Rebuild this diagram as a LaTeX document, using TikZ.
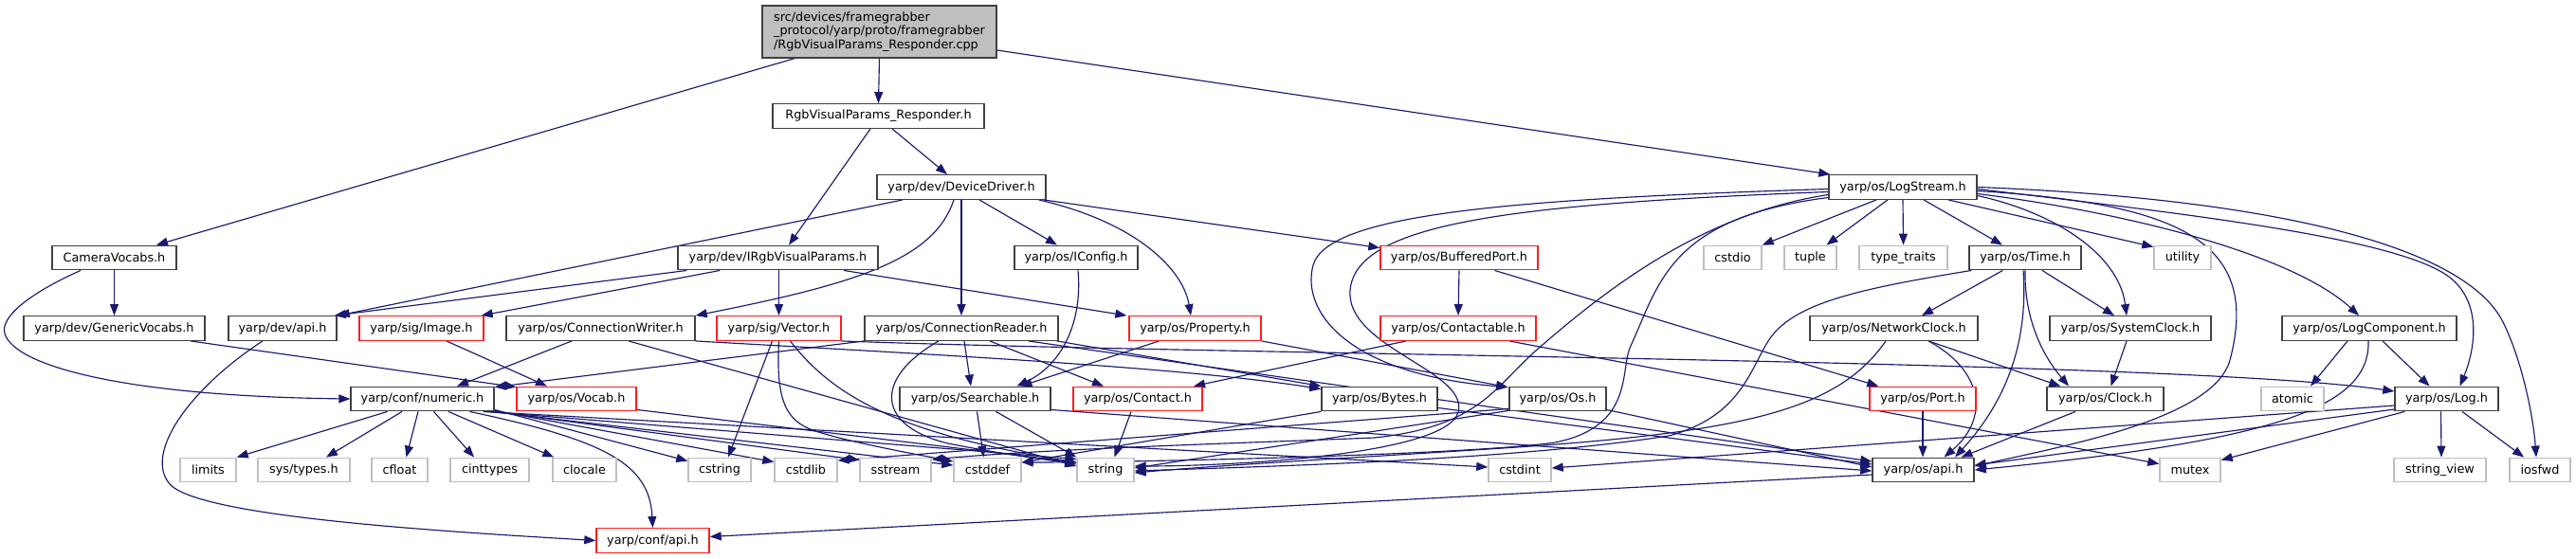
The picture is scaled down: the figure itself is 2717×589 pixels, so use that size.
\documentclass[tikz,border=0pt]{standalone}
\usepackage{fontspec}
\setmainfont{DejaVu Sans}
\usetikzlibrary{arrows.meta,calc}
\pgfdeclarelayer{background}
\pgfsetlayers{background,main}
\definecolor{doxedge}{RGB}{25,25,112}
\definecolor{doxborder}{RGB}{64,64,64}
\definecolor{doxred}{RGB}{255,30,30}
\definecolor{doxgray}{RGB}{191,191,191}
\definecolor{doxfill}{RGB}{191,191,191}
\tikzset{
  box/.style={draw=doxborder, line width=1.4pt, fill=white, inner sep=0pt,
    minimum height=25.5pt, font={\fontsize{12.8}{14.7}\selectfont}, text=black},
  nb/.style={box},
  rb/.style={box, draw=doxred},
  gb/.style={box, draw=doxgray},
  e/.style={draw=doxedge, line width=1.15pt, -{Triangle[length=12pt,width=9pt]}},
}
\begin{document}
\begin{tikzpicture}[x=1pt,y=-1pt]
\useasboundingbox (0,0) rectangle (2717,589);
% row 0
\node[nb, fill=doxfill, minimum width=247pt, minimum height=55pt, align=left] (top) at (927.5,33.5)
  {src/devices/framegrabber\\\_protocol/yarp/proto/framegrabber\\/RgbVisualParams\_Responder.cpp};
% row 1
\node[nb, minimum width=223pt] (resp) at (926.5,122.5) {RgbVisualParams\_Responder.h};
% row 2
\node[nb, minimum width=178pt] (devdrv) at (1014,197.5) {yarp/dev/DeviceDriver.h};
\node[nb, minimum width=156pt] (logstream) at (2007,197.5) {yarp/os/LogStream.h};
% row 3
\node[nb, minimum width=131pt] (camvoc) at (120.5,272) {CameraVocabs.h};
\node[nb, minimum width=211pt] (irgb) at (820.5,272) {yarp/dev/IRgbVisualParams.h};
\node[nb, minimum width=130pt] (iconfig) at (1135,272) {yarp/os/IConfig.h};
\node[rb, minimum width=166pt] (bufport) at (1539,272) {yarp/os/BufferedPort.h};
\node[gb, minimum width=61pt] (cstdio) at (1827.5,272) {cstdio};
\node[gb, minimum width=55pt] (tuple) at (1909.5,272) {tuple};
\node[gb, minimum width=93pt] (typetraits) at (2007.5,272) {type\_traits};
\node[nb, minimum width=118pt] (time) at (2136,272) {yarp/os/Time.h};
\node[gb, minimum width=60pt] (utility) at (2302,272) {utility};
% row 4
\node[nb, minimum width=191pt] (genvoc) at (120.5,346.5) {yarp/dev/GenericVocabs.h};
\node[nb, minimum width=114pt] (devapi) at (298,346.5) {yarp/dev/api.h};
\node[rb, minimum width=131pt] (image) at (444.5,346.5) {yarp/sig/Image.h};
\node[nb, minimum width=199pt] (connwriter) at (633.5,346.5) {yarp/os/ConnectionWriter.h};
\node[rb, minimum width=131pt] (vector) at (821.5,346.5) {yarp/sig/Vector.h};
\node[nb, minimum width=204pt] (connreader) at (1014,346.5) {yarp/os/ConnectionReader.h};
\node[rb, minimum width=139pt] (property) at (1260.5,346.5) {yarp/os/Property.h};
\node[rb, minimum width=164pt] (contactable) at (1538,346.5) {yarp/os/Contactable.h};
\node[nb, minimum width=177pt] (netclock) at (1997.5,346.5) {yarp/os/NetworkClock.h};
\node[nb, minimum width=170pt] (sysclock) at (2247,346.5) {yarp/os/SystemClock.h};
\node[nb, minimum width=184pt] (logcomp) at (2499,346.5) {yarp/os/LogComponent.h};
% row 5
\node[nb, minimum width=151pt] (numeric) at (445.5,421) {yarp/conf/numeric.h};
\node[rb, minimum width=126pt] (vocab) at (608,421) {yarp/os/Vocab.h};
\node[nb, minimum width=159pt] (searchable) at (1028.5,421) {yarp/os/Searchable.h};
\node[rb, minimum width=136pt] (contact) at (1200,421) {yarp/os/Contact.h};
\node[nb, minimum width=122pt] (bytes) at (1455,421) {yarp/os/Bytes.h};
\node[nb, minimum width=102pt] (os) at (1643,421) {yarp/os/Os.h};
\node[rb, minimum width=112pt] (port) at (2028,421) {yarp/os/Port.h};
\node[nb, minimum width=123pt] (clock) at (2220.5,421) {yarp/os/Clock.h};
\node[gb, minimum width=66pt] (atomic) at (2418,421) {atomic};
\node[nb, minimum width=109pt] (log) at (2580.5,421) {yarp/os/Log.h};
% row 6
\node[gb, minimum width=59pt] (limits) at (219.5,496) {limits};
\node[gb, minimum width=97pt] (systypes) at (320.5,496) {sys/types.h};
\node[gb, minimum width=59pt] (cfloat) at (421.5,496) {cfloat};
\node[gb, minimum width=83pt] (cinttypes) at (516.5,496) {cinttypes};
\node[gb, minimum width=67pt] (clocale) at (616.5,496) {clocale};
\node[gb, minimum width=66pt] (cstring) at (759,496) {cstring};
\node[gb, minimum width=66pt] (cstdlib) at (850,496) {cstdlib};
\node[gb, minimum width=75pt] (sstream) at (944.5,496) {sstream};
\node[gb, minimum width=71pt] (cstddef) at (1041.5,496) {cstddef};
\node[gb, minimum width=60pt] (string) at (1166,496) {string};
\node[gb, minimum width=66pt] (cstdint) at (1603,496) {cstdint};
\node[nb, minimum width=107pt] (osapi) at (2028.5,496) {yarp/os/api.h};
\node[gb, minimum width=64pt] (mutex) at (2310,496) {mutex};
\node[gb, minimum width=97pt] (stringview) at (2573.5,496) {string\_view};
\node[gb, minimum width=64pt] (iosfwd) at (2679,496) {iosfwd};
% row 7
\node[rb, minimum width=119pt] (confapi) at (688.5,570.5) {yarp/conf/api.h};

\begin{pgfonlayer}{background}
\draw[e] ($(top.south)+(-89.5,0)$) -- ($(camvoc.north)+(44.5,0)$);
\draw[e] (top.south) -- (resp.north);
\draw[e] ($(top.east)+(0,19.5)$) -- ($(logstream.north west)+(2,0)$);
\draw[e] ($(resp.south)+(14.5,0)$) -- ($(devdrv.north)+(-15,0)$);
\draw[e] ($(resp.south)+(-8.5,0)$) -- ($(irgb.north)+(11.5,0)$);
\draw[e] (camvoc.south) -- (genvoc.north);
\draw[e] ($(camvoc.south)+(-35.5,0)$) .. controls (30,310) and (0,335) .. (5,352) .. controls (15,386) and (130,418) .. (numeric.west);
\draw[e] ($(genvoc.south)+(80.5,0)$) -- ($(vocab.north west)+(0,1)$);
\draw[e] ($(devdrv.south)+(-62,0)$) -- ($(devapi.north east)+(1,0)$);
\draw[e] ($(devdrv.south)+(-8,0)$) .. controls (985,275) and (900,300) .. (connwriter.north east);
\draw[e] (devdrv.south) -- (connreader.north);
\draw[e] ($(devdrv.south)+(19,0)$) -- ($(iconfig.north)+(-20,0)$);
\draw[e] ($(devdrv.south east)+(-8,0)$) .. controls (1200,235) and (1248,285) .. ($(property.north)+(-4.5,0)$);
\draw[e] ($(devdrv.south east)+(-3,0)$) -- ($(bufport.north west)+(0,3)$);
\draw[e] ($(irgb.south west)+(10,0)$) -- ($(devapi.north east)+(-3,0)$);
\draw[e] ($(irgb.south west)+(45,0)$) -- ($(image.north east)+(-3,0)$);
\draw[e] ($(irgb.south)+(1,0)$) -- (vector.north);
\draw[e] ($(irgb.south)+(69.5,0)$) -- ($(property.north west)+(-2,0)$);
\draw[e] ($(devapi.south)+(-21,0)$) .. controls (200,410) and (150,480) .. (180,512) .. controls (215,545) and (450,560) .. (confapi.west);
\draw[e] ($(image.south)+(26.5,0)$) -- ($(vocab.north)+(-31,0)$);
\draw[e] ($(connwriter.south)+(-30.5,0)$) -- ($(numeric.north)+(36.5,0)$);
\draw[e] ($(connwriter.south)+(29.5,0)$) -- ($(string.west)+(0,-4)$);
\draw[e] (connwriter.south east) .. controls (1000,375) and (1250,388) .. ($(bytes.north west)+(0,3)$);
\draw[e] ($(vector.south)+(-7,0)$) -- ($(cstring.north)+(9,0)$);
\draw[e] (vector.south) .. controls (818,425) and (830,445) .. (860,455) .. controls (900,468) and (980,482) .. ($(cstddef.west)+(0,-9)$);
\draw[e] ($(vector.south)+(12,0)$) .. controls (880,420) and (950,458) .. ($(string.west)+(0,-8)$);
\draw[e] (vector.south east) .. controls (1300,375) and (2300,380) .. ($(log.west)+(0,-8)$);
\draw[e] (connreader.south west) -- ($(numeric.north east)+(0,1)$);
\draw[e] ($(connreader.south)+(3,0)$) -- ($(searchable.north)+(-4.5,0)$);
\draw[e] ($(connreader.south)+(30,0)$) -- ($(contact.north)+(-36,0)$);
\draw[e] ($(connreader.south east)+(-2,0)$) -- (bytes.north west);
\draw[e] ($(connreader.south)+(-24,0)$) .. controls (920,400) and (925,450) .. (1000,468) .. controls (1060,480) and (1110,486) .. ($(string.west)+(0,-6)$);
\draw[e] ($(connreader.south east)+(-32,0)$) -- ($(osapi.west)+(0,-9)$);
\draw[e] ($(iconfig.south)+(2,0)$) .. controls (1142,340) and (1120,385) .. ($(searchable.north)+(44,0)$);
\draw[e] ($(property.south)+(-38,0)$) -- ($(searchable.north)+(48,0)$);
\draw[e] (property.south east) -- ($(os.north west)+(-1,1)$);
\draw[e] ($(searchable.south)+(2,0)$) -- ($(cstddef.north)+(-4,0)$);
\draw[e] ($(searchable.south)+(22,0)$) -- (string.north west);
\draw[e] ($(searchable.south east)+(0,-2)$) -- ($(osapi.west)+(0,1)$);
\draw[e] ($(contact.south)+(-7,0)$) -- ($(string.north)+(9.5,0)$);
\draw[e] ($(contactable.south)+(-55,0)$) -- ($(contact.north)+(59,0)$);
\draw[e] ($(contactable.south)+(54,0)$) -- ($(mutex.north west)+(0,7)$);
\draw[e] (bufport.south) -- (contactable.north);
\draw[e] ($(bufport.south)+(37.5,0)$) -- ($(port.north west)+(10,0)$);
\draw[e] ($(bytes.south east)+(0,-4)$) -- ($(osapi.west)+(0,-6)$);
\draw[e] (bytes.south west) -- ($(cstddef.east)+(0,-8)$);
\draw[e] ($(os.south west)+(0,-3)$) -- ($(cstdlib.east)+(0,-10)$);
\draw[e] ($(os.south west)+(0,-1)$) -- ($(string.east)+(0,-2)$);
\draw[e] ($(os.south east)+(0,-2)$) -- ($(osapi.west)+(0,-3)$);
\draw[e] (port.south) -- ($(osapi.north)+(-0.5,0)$);
\draw[e] ($(numeric.south)+(-37,0)$) -- (limits.north east);
\draw[e] ($(numeric.south)+(-21.5,0)$) -- ($(systypes.north)+(23.5,0)$);
\draw[e] ($(numeric.south)+(-4.5,0)$) -- ($(cfloat.north)+(7,0)$);
\draw[e] ($(numeric.south)+(12,0)$) -- ($(cinttypes.north)+(-16.5,0)$);
\draw[e] ($(numeric.south)+(27.5,0)$) -- ($(clocale.north west)+(2,0)$);
\draw[e] ($(numeric.south)+(50,0)$) .. controls (640,465) and (685,490) .. (confapi.north);
\draw[e] ($(numeric.south east)+(0,-2)$) -- ($(cstring.north west)+(0,4)$);
\draw[e] ($(numeric.south east)+(0,-1)$) -- ($(cstdlib.north west)+(0,5)$);
\draw[e] (numeric.south east) -- ($(sstream.north west)+(0,3)$);
\draw[e] ($(numeric.south east)+(-4,0)$) -- ($(cstddef.west)+(0,-5)$);
\draw[e] ($(numeric.south east)+(-8,0)$) -- ($(string.north west)+(0,2)$);
\draw[e] ($(numeric.south east)+(-12,0)$) -- ($(cstdint.west)+(0,-3)$);
\draw[e] ($(vocab.south east)+(0,-2)$) -- ($(string.west)+(0,-8)$);
\draw[e] ($(logstream.south)+(-28,0)$) -- (cstdio.north east);
\draw[e] ($(logstream.south)+(-16,0)$) -- ($(tuple.north)+(17,0)$);
\draw[e] (logstream.south) -- (typetraits.north);
\draw[e] ($(logstream.south)+(22,0)$) -- ($(time.north)+(-24,0)$);
\draw[e] ($(logstream.south)+(48,0)$) -- ($(utility.north west)+(0,2)$);
\draw[e] ($(logstream.east)+(0,9)$) .. controls (2170,225) and (2235,270) .. ($(sysclock.north)+(-4,0)$);
\draw[e] ($(logstream.east)+(0,7)$) .. controls (2250,225) and (2420,270) .. ($(logcomp.north)+(-11,0)$);
\draw[e] ($(logstream.east)+(0,4)$) .. controls (2300,215) and (2385,255) .. (2352,380) .. controls (2335,442) and (2180,470) .. ($(osapi.east)+(0,-4)$);
\draw[e] ($(logstream.east)+(0,2)$) .. controls (2300,225) and (2520,250) .. (2580,290) .. controls (2620,317) and (2610,370) .. ($(log.north)+(14,0)$);
\draw[e] (logstream.east) .. controls (2400,210) and (2600,260) .. (2640,340) .. controls (2660,380) and (2672,440) .. ($(iosfwd.north)+(-4,0)$);
\draw[e] ($(logstream.west)+(0,2)$) .. controls (1600,210) and (1400,225) .. (1385,280) .. controls (1372,328) and (1420,395) .. ($(os.north west)+(-1,1)$);
\draw[e] ($(logstream.west)+(0,5)$) .. controls (1600,215) and (1440,235) .. (1425,300) .. controls (1410,365) and (1550,390) .. (1538,435) .. controls (1526,480) and (1300,492) .. ($(string.east)+(0,-4)$);
\draw[e] ($(logstream.west)+(0,8)$) .. controls (1800,225) and (1700,300) .. (1620,370) .. controls (1575,410) and (1560,450) .. (1450,462) .. controls (1300,468) and (1100,474) .. ($(sstream.east)+(0,-11)$);
\draw[e] ($(logstream.west)+(0,11)$) .. controls (1760,230) and (1750,300) .. (1720,365) .. controls (1708,390) and (1725,450) .. (1640,467) .. controls (1550,480) and (1200,488) .. ($(cstddef.east)+(0,-8)$);
\draw[e] ($(time.south west)+(36,0)$) -- ($(netclock.north)+(29.5,0)$);
\draw[e] ($(time.south)+(18,0)$) -- ($(sysclock.north)+(-17,0)$);
\draw[e] (time.south) .. controls (2135,330) and (2150,370) .. ($(clock.north)+(-38.5,0)$);
\draw[e] ($(time.south)+(-2,0)$) .. controls (2140,370) and (2110,430) .. ($(osapi.north)+(33.5,0)$);
\draw[e] ($(time.south west)+(3,0)$) .. controls (1960,305) and (1890,320) .. (1865,360) .. controls (1845,392) and (1835,440) .. (1760,460) .. controls (1600,485) and (1350,492) .. ($(string.east)+(0,1)$);
\draw[e] ($(netclock.south)+(36.5,0)$) -- ($(clock.north west)+(15,0)$);
\draw[e] ($(netclock.south)+(36.5,0)$) .. controls (2090,390) and (2100,440) .. ($(osapi.north)+(22,0)$);
\draw[e] ($(netclock.south)+(-8.5,0)$) .. controls (1940,430) and (1850,455) .. (1600,472) .. controls (1450,482) and (1300,490) .. ($(string.east)+(0,3)$);
\draw[e] ($(sysclock.south)+(-4,0)$) -- ($(clock.north)+(6,0)$);
\draw[e] ($(clock.south)+(-31.5,0)$) -- ($(osapi.north)+(40,0)$);
\draw[e] ($(logcomp.south)+(-23,0)$) -- ($(atomic.north)+(19,0)$);
\draw[e] ($(logcomp.south)+(14,0)$) -- ($(log.north)+(-18,0)$);
\draw[e] ($(logcomp.south)+(-1,0)$) .. controls (2500,430) and (2400,465) .. (osapi.east);
\draw[e] ($(log.west)+(0,11)$) -- ($(osapi.east)+(0,-5)$);
\draw[e] ($(log.west)+(0,7)$) -- ($(cstdint.east)+(0,-2)$);
\draw[e] ($(log.south west)+(11,0)$) -- ($(mutex.north east)+(0,3)$);
\draw[e] ($(log.south)+(-6,0)$) -- ($(stringview.north)+(1.5,0)$);
\draw[e] ($(log.south)+(16.5,0)$) -- ($(iosfwd.north)+(-17,0)$);
\draw[e] ($(osapi.west)+(0,5)$) -- ($(confapi.east)+(0,-4)$);
\end{pgfonlayer}
\end{tikzpicture}
\end{document}
